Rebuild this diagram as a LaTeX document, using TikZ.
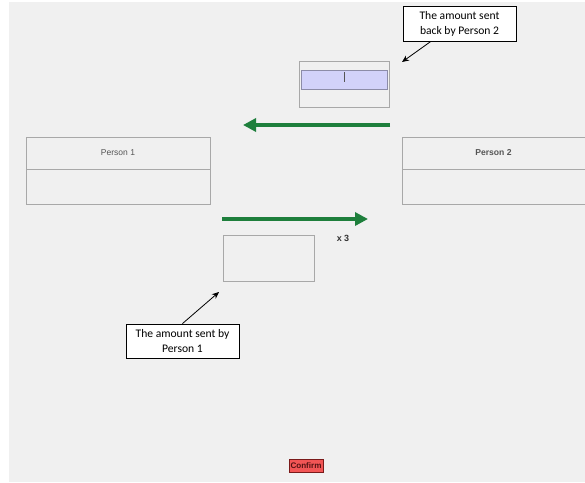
\documentclass[tikz,border=0pt]{standalone}
\usepackage{fontspec}
\setmainfont{Liberation Sans}
\newfontfamily\calloutfont{Carlito}
\usetikzlibrary{arrows.meta}

\definecolor{screengray}{HTML}{F0F0F0}
\definecolor{framegray}{HTML}{A8A8A8}
\definecolor{fieldblue}{HTML}{D2D2FA}
\definecolor{fieldedge}{HTML}{8C8CA8}
\definecolor{flowgreen}{HTML}{1E7F3C}
\definecolor{btnred}{HTML}{F25555}
\definecolor{btnedge}{HTML}{7A1A1A}
\definecolor{labelgray}{HTML}{555555}

\begin{document}
\begin{tikzpicture}[x=1pt, y=-1pt,
    panel/.style={draw=framegray, line width=0.9pt, inner sep=0pt, outer sep=0pt},
    callout/.style={draw=black, fill=white, line width=0.9pt, inner sep=0pt,
        minimum width=113pt, align=center, font=\calloutfont\fontsize{11.6}{15}\selectfont},
    flow/.style={flowgreen, line width=3.8pt, -{Triangle[length=13pt, width=13pt]}},
    pointer/.style={black, line width=0.8pt, -{Stealth[length=7pt, width=6pt]}}
  ]
    % screen
    \fill[white] (0,0) rectangle (585,482);
    \fill[screengray] (9,2) rectangle (585,482);
    \useasboundingbox (0,0) rectangle (585,482);

    % Person 1
    \node[panel, minimum width=184pt, minimum height=32pt, text=labelgray,
        font=\fontsize{8.5}{9}\selectfont] (p1head) at (118,153) {Person 1};
    \node[panel, minimum width=184pt, minimum height=35pt] (p1body) at (118,186.5) {};

    % Person 2
    \node[panel, minimum width=183pt, minimum height=32pt, text=labelgray,
        font=\fontsize{8.6}{9}\selectfont\bfseries] (p2head) at (493.5,153) {Person 2};
    \node[panel, minimum width=183pt, minimum height=35pt] (p2body) at (493.5,186.5) {};

    % amount sent back
    \node[panel, minimum width=90pt, minimum height=46pt] (backbox) at (344,84) {};
    \node[draw=fieldedge, fill=fieldblue, line width=0.9pt, inner sep=0pt,
        minimum width=86pt, minimum height=19pt] (backfield) at (344,79.5) {};
    \draw[labelgray, line width=0.8pt] (344,72) -- (344,82);

    % amount sent
    \node[panel, minimum width=91pt, minimum height=46pt] (sentbox) at (268.5,258) {};

    % transfers
    \coordinate (backstart) at (390,125);
    \coordinate (backend) at (243,125);
    \draw[flow] (backstart) -- (backend);
    \coordinate (sentstart) at (222,219);
    \coordinate (sentend) at (368,219);
    \draw[flow] (sentstart) -- (sentend);
    \node[font=\fontsize{9}{10}\selectfont\bfseries, text=black!80] (triple) at (343,238) {x 3};

    % callouts
    \node[callout, minimum height=35pt] (calltop) at (459.5,23.5)
        {The amount sent\\back by Person 2};
    \coordinate (backtip) at (402,62);
    \draw[pointer] (calltop.212) -- (backtip);

    \node[callout, minimum height=34pt] (callbot) at (182.5,341)
        {The amount sent by\\Person 1};
    \coordinate (senttip) at (219,292);
    \draw[pointer] (callbot.north) -- (senttip);

    % confirm
    \node[draw=btnedge, fill=btnred, line width=0.8pt, inner sep=0pt,
        minimum width=34pt, minimum height=13pt, text=btnedge!70!black,
        font=\fontsize{9}{9}\selectfont\bfseries] (confirm) at (306,465.5) {\resizebox{31pt}{!}{Confirm}};
\end{tikzpicture}
\end{document}
